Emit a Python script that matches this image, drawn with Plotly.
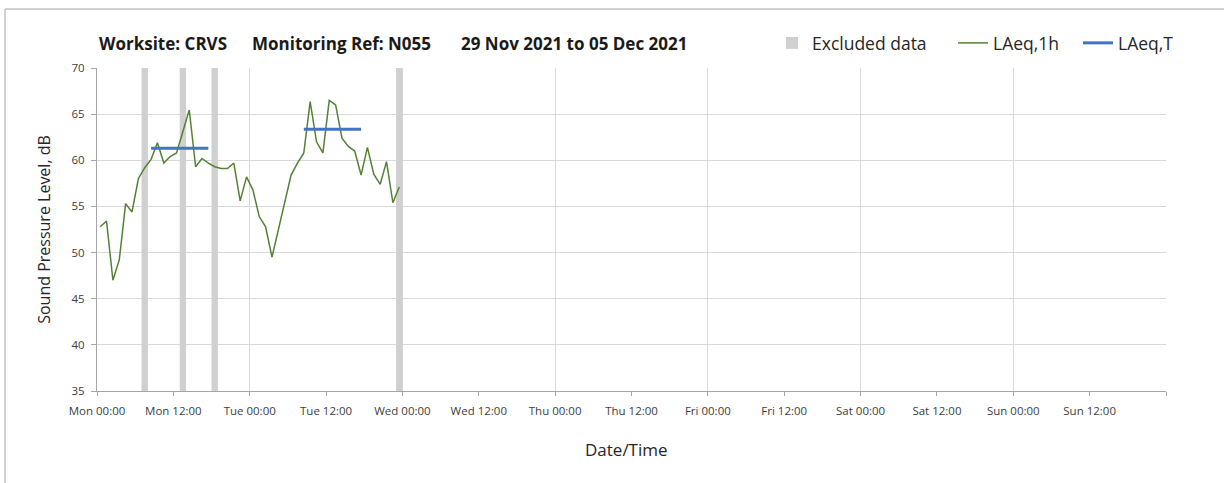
import pandas as pd
import plotly.graph_objects as go

# ---- data ----
laeq_1h = [52.8, 53.4, 47.0, 49.2, 55.3, 54.4, 58.0, 59.2, 60.1, 61.9,
           59.7, 60.4, 60.8, 63.1, 65.45, 59.3, 60.2, 59.7, 59.3, 59.1,
           59.1, 59.7, 55.6, 58.2, 56.8, 53.9, 52.8, 49.5, 52.4, 55.3,
           58.4, 59.7, 60.8, 66.35, 62.0, 60.8, 66.5, 66.0, 62.4, 61.5,
           61.0, 58.4, 61.4, 58.5, 57.4, 59.85, 55.4, 57.1]
laeq_1h_times = pd.date_range("2021-11-29 00:30", periods=len(laeq_1h), freq="h")

laeq_t_times = ["2021-11-29 08:30", "2021-11-29 17:30", None,
                "2021-11-30 08:30", "2021-11-30 17:30"]
laeq_t_values = [61.3, 61.3, None, 63.35, 63.35]

excluded_times = ["2021-11-29 07:30", "2021-11-29 13:30",
                  "2021-11-29 18:30", "2021-11-30 23:30"]

y_min, y_max = 35, 70

tick_times = pd.date_range("2021-11-29 00:00", "2021-12-06 00:00", freq="12h")
tick_labels = ["Mon 00:00", "Mon 12:00", "Tue 00:00", "Tue 12:00", "Wed 00:00",
               "Wed 12:00", "Thu 00:00", "Thu 12:00", "Fri 00:00", "Fri 12:00",
               "Sat 00:00", "Sat 12:00", "Sun 00:00", "Sun 12:00", ""]

x_range = ["2021-11-29 00:00", "2021-12-06 00:00"]

title_parts = ["Worksite: CRVS", "Monitoring Ref: N055", "29 Nov 2021 to 05 Dec 2021"]

FONT = "Open Sans"

L, R, T, B = 97, 1224 - 1166, 68, 483 - 391
W, H = 1224, 483
pw, ph = W - L - R, H - T - B

fig = go.Figure()

fig.add_trace(go.Bar(
    x=excluded_times, y=[y_max - y_min] * len(excluded_times), base=y_min,
    width=3600000, marker=dict(color="#D0D0D0", line=dict(width=0)),
    name="Excluded data", hoverinfo="skip", legend="legend"))

fig.add_trace(go.Scatter(
    x=laeq_1h_times, y=laeq_1h, mode="lines", name="LAeq,1h",
    line=dict(color="#548235", width=1.5), legend="legend2"))

fig.add_trace(go.Scatter(
    x=laeq_t_times, y=laeq_t_values, mode="lines", name="LAeq,T",
    line=dict(color="#4472C4", width=3), connectgaps=False, legend="legend3"))

# invisible trace for daily gridline axis
fig.add_trace(go.Scatter(x=x_range, y=[y_min, y_min], xaxis="x2", mode="lines",
                         line=dict(width=0), showlegend=False, hoverinfo="skip"))


def legend_at(px):
    return dict(orientation="h", x=(px - L) / pw, xanchor="left",
                y=1 + (T - 43) / ph, yanchor="middle",
                font=dict(family=FONT, size=17.5, color="#262626"),
                bgcolor="rgba(0,0,0,0)", itemwidth=30)


title_x_px = [97, 250, 459]
annotations = [
    dict(text=t, xref="paper", yref="paper", x=(px - L) / pw, xanchor="left",
         y=1 + (T - 43) / ph, yanchor="middle", showarrow=False,
         font=dict(family=FONT, size=17, color="#1a1a1a", weight="bold"))
    for t, px in zip(title_parts, title_x_px)
]
annotations.append(
    dict(text="Date/Time", xref="paper", yref="paper", x=(626 - L) / pw,
         xanchor="center", y=-(449 - (T + ph)) / ph, yanchor="middle",
         showarrow=False, font=dict(family=FONT, size=17, color="#262626")))

fig.update_layout(
    width=W, height=H,
    margin=dict(l=L, r=R, t=T, b=B, pad=0),
    paper_bgcolor="white", plot_bgcolor="white",
    font=dict(family=FONT, color="#404040"),
    barmode="overlay",
    annotations=annotations,
    showlegend=True,
    legend=legend_at(772),
    legend2=legend_at(953),
    legend3=legend_at(1078),
    xaxis=dict(
        type="date", range=x_range,
        tickmode="array", tickvals=tick_times, ticktext=tick_labels,
        showgrid=False, zeroline=False,
        ticks="outside", ticklen=4, tickcolor="#A6A6A6",
        showline=True, linecolor="#A6A6A6", linewidth=1,
        tickfont=dict(family=FONT, size=11.5, color="#404040"),
        ticklabelstandoff=5,
    ),
    xaxis2=dict(
        type="date", range=x_range, overlaying="x", side="bottom",
        dtick=86400000, tick0="2021-11-29", showgrid=True, gridcolor="#D9D9D9",
        gridwidth=1, showticklabels=False, ticks="", showline=False, zeroline=False,
        layer="below traces",
    ),
    yaxis=dict(
        range=[y_min, y_max], dtick=5, tick0=35,
        showgrid=True, gridcolor="#D9D9D9", gridwidth=1, zeroline=False,
        ticks="outside", ticklen=5, tickcolor="#A6A6A6",
        showline=True, linecolor="#A6A6A6", linewidth=1,
        tickfont=dict(family=FONT, size=11.5, color="#404040"),
        ticklabelstandoff=4,
        title=dict(text="Sound Pressure Level, dB",
                   font=dict(family=FONT, size=16, color="#262626"), standoff=16),
    ),
    shapes=[
        dict(type="line", xref="paper", yref="paper",
             x0=(5 - L) / pw, x1=(5 - L) / pw, y0=-1, y1=1 + (T - 9) / ph,
             line=dict(color="#A6A6A6", width=1)),
        dict(type="line", xref="paper", yref="paper",
             x0=(5 - L) / pw, x1=1.2, y0=1 + (T - 9) / ph, y1=1 + (T - 9) / ph,
             line=dict(color="#A6A6A6", width=1)),
    ],
)

fig.write_html("out.html", config={"displayModeBar": False},
               post_script="document.body.style.margin='0';")
